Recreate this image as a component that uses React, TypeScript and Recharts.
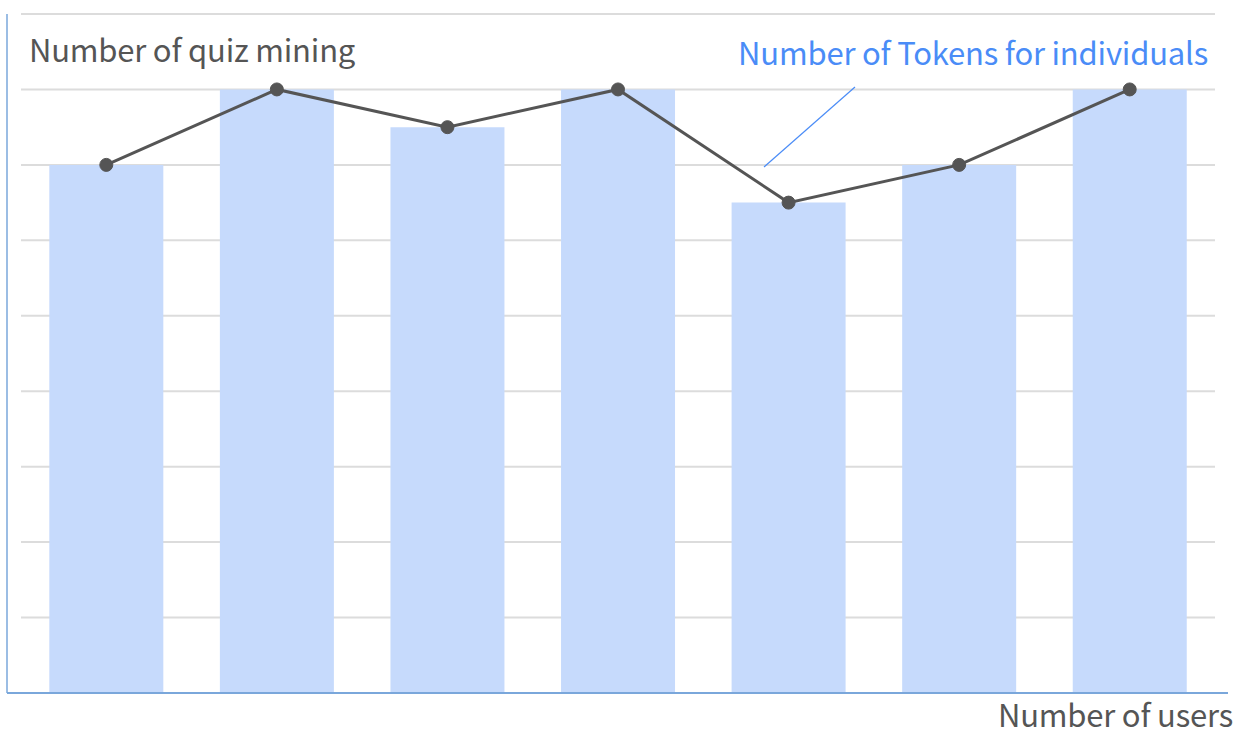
import { Bar, CartesianGrid, ComposedChart, Line, XAxis, YAxis } from "recharts";

const categories = ["A", "B", "C", "D", "E", "F", "G"];
const quizMining = [7, 8, 7.5, 8, 6.5, 7, 8];
const tokens = [7, 8, 7.5, 8, 6.5, 7, 8];
const yTicks = [0, 1, 2, 3, 4, 5, 6, 7, 8, 9];

const data = categories.map((c, i) => ({
  name: c,
  quiz: quizMining[i],
  tokens: tokens[i],
}));

const FONT = '"Noto Sans CJK KR", "Noto Sans", sans-serif';

export default function App() {
  return (
    <div style={{ position: "absolute", left: 0, top: 0, width: 1242, height: 736, background: "#fff", fontFamily: FONT }}>
      <ComposedChart
        width={1242}
        height={736}
        data={data}
        margin={{ top: 14, right: 14, bottom: 42, left: 6 }}
        barCategoryGap="16.6%"
      >
        <CartesianGrid
          vertical={false}
          stroke="#dcdcdc"
          strokeWidth={2}
          horizontal={(p: any) => (
            <line key={`g-${p.index}-${p.y1}`} x1={p.x1 + 14} x2={p.x2 - 13} y1={p.y1} y2={p.y2} stroke="#dcdcdc" strokeWidth={2} />
          )}
        />
        <XAxis
          dataKey="name"
          padding={{ left: 14, right: 13 }}
          axisLine={{ stroke: "#7aa7db", strokeWidth: 2 }}
          tickLine={false}
          tick={() => <g />}
          height={1}
        />
        <YAxis
          domain={[0, 9]}
          ticks={yTicks}
          interval={0}
          width={1}
          axisLine={{ stroke: "#7aa7db", strokeWidth: 1.5 }}
          tickLine={false}
          tick={() => <g />}
        />
        <Bar dataKey="quiz" fill="#c6dafc" isAnimationActive={false} />
        <Line
          dataKey="tokens"
          stroke="#555555"
          strokeWidth={3}
          dot={{ r: 6.5, fill: "#555555", stroke: "#555555", strokeWidth: 1 }}
          isAnimationActive={false}
        />
      </ComposedChart>
      <svg width={1242} height={736} style={{ position: "absolute", left: 0, top: 0, pointerEvents: "none" }}>
        <line x1={855} y1={87} x2={764} y2={167} stroke="#4a8cf7" strokeWidth={1.2} />
      </svg>
      <div style={{ position: "absolute", left: 29, top: 29, fontSize: 31, color: "#555", lineHeight: "40px", whiteSpace: "nowrap", letterSpacing: -0.2 }}>
        Number of quiz mining
      </div>
      <div style={{ position: "absolute", right: 1242 - 1208, top: 32, fontSize: 31, color: "#4a8cf7", lineHeight: "40px", whiteSpace: "nowrap", letterSpacing: -0.2 }}>
        Number of Tokens for individuals
      </div>
      <div style={{ position: "absolute", right: 1242 - 1233, top: 694, fontSize: 31, color: "#555", lineHeight: "40px", whiteSpace: "nowrap", letterSpacing: -0.2 }}>
        Number of users
      </div>
    </div>
  );
}
